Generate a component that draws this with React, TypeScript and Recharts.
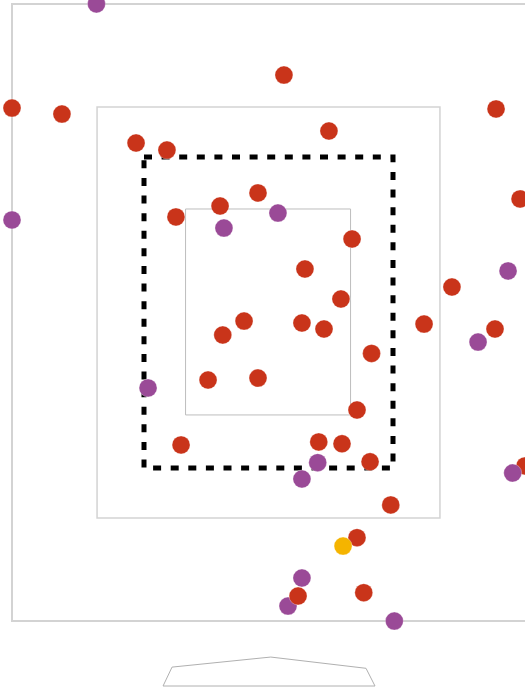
import { ScatterChart, Scatter, XAxis, YAxis, ReferenceArea, Cell } from 'recharts';

// pitch locations, feet from centre of plate (x) and height above ground (z)
const plateX = [
  -1.71, -1.377, -0.883, -0.677, 0.103, 0.403, 1.517, 1.677, -0.07, -0.323,
  -0.617, 0.557, 0.243, 0.483, 1.223, 1.037, 0.223, 0.37, 1.51, -0.163,
  -0.305, 0.687, -0.403, -0.07, 0.59, -0.583, 0.335, 0.49, 0.677, 1.71,
  0.815, 0.59, 0.635,
  -1.147, -1.71, -0.297, 0.063, 1.597, 1.397, -0.803, 0.328, 0.223, 1.628,
  0.223, 0.13, 0.839,
  0.197, 0.497,
];
const plateZ = [
  3.893, 3.853, 3.66, 3.613, 4.113, 3.74, 3.887, 3.287, 3.327, 3.24,
  3.167, 3.02, 2.82, 2.62, 2.7, 2.453, 2.46, 2.42, 2.42, 2.473,
  2.38, 2.257, 2.08, 2.093, 1.88, 1.647, 1.667, 1.655, 1.535, 1.507,
  1.247, 1.029, 0.662,
  4.587, 3.147, 3.093, 3.193, 2.807, 2.333, 2.027, 1.529, 1.42, 1.46,
  0.76, 0.573, 0.473,
  0.64, 0.973,
];
const pitchType = [
  'FF', 'FF', 'FF', 'FF', 'FF', 'FF', 'FF', 'FF', 'FF', 'FF',
  'FF', 'FF', 'FF', 'FF', 'FF', 'FF', 'FF', 'FF', 'FF', 'FF',
  'FF', 'FF', 'FF', 'FF', 'FF', 'FF', 'FF', 'FF', 'FF', 'FF',
  'FF', 'FF', 'FF',
  'CU', 'CU', 'CU', 'CU', 'CU', 'CU', 'CU', 'CU', 'CU', 'CU',
  'CU', 'CU', 'CU',
  'FF', 'CH',
];

const plateOutlineX = [-0.703, -0.643, 0.015, 0.65, 0.71, -0.703];
const plateOutlineZ = [0.04, 0.166, 0.233, 0.158, 0.04, 0.04];

const typeColors: Record<string, string> = {
  FF: '#c9341a',
  CU: '#9a4a97',
  CH: '#f5b400',
};

const pitches = plateX.map((x, i) => ({ x, z: plateZ[i], type: pitchType[i] }));
const plateOutline = plateOutlineX.map((x, i) => ({ x, z: plateOutlineZ[i] }));

const Dot = (props: any) => (
  <circle cx={props.cx} cy={props.cy} r={9} fill={props.fill} stroke="#fff" strokeWidth={0.5} strokeOpacity={0.6} />
);

export default function App() {
  return (
    <div style={{ position: 'absolute', left: 0, top: 0, background: '#fff' }}>
      <ScatterChart width={525} height={692} margin={{ top: 0, right: 0, bottom: 0, left: 0 }}>
        <XAxis type="number" dataKey="x" hide domain={[-1.79, 1.71]} allowDataOverflow />
        <YAxis type="number" dataKey="z" hide domain={[0, 4.6133]} allowDataOverflow />

        <ReferenceArea x1={-1.71} x2={1.85} y1={0.473} y2={4.587} fill="none" stroke="#d3d3d3" strokeWidth={2} ifOverflow="visible" />
        <ReferenceArea x1={-1.143} x2={1.143} y1={1.16} y2={3.9} fill="none" stroke="#d3d3d3" strokeWidth={1.5} ifOverflow="visible" />
        <ReferenceArea x1={-0.553} x2={0.547} y1={1.847} y2={3.22} fill="none" stroke="#bdbdbd" strokeWidth={1} ifOverflow="visible" />
        <ReferenceArea x1={-0.83} x2={0.83} y1={1.493} y2={3.567} fill="none" stroke="#000" strokeWidth={5} strokeDasharray="8 9.6" ifOverflow="visible" />

        <Scatter
          data={plateOutline}
          line={{ stroke: '#b0b0b0', strokeWidth: 1 }}
          lineType="joint"
          shape={() => <g />}
          isAnimationActive={false}
        />

        <Scatter data={pitches} shape={Dot} isAnimationActive={false}>
          {pitches.map((p, i) => (
            <Cell key={i} fill={typeColors[p.type]} />
          ))}
        </Scatter>
      </ScatterChart>
    </div>
  );
}
